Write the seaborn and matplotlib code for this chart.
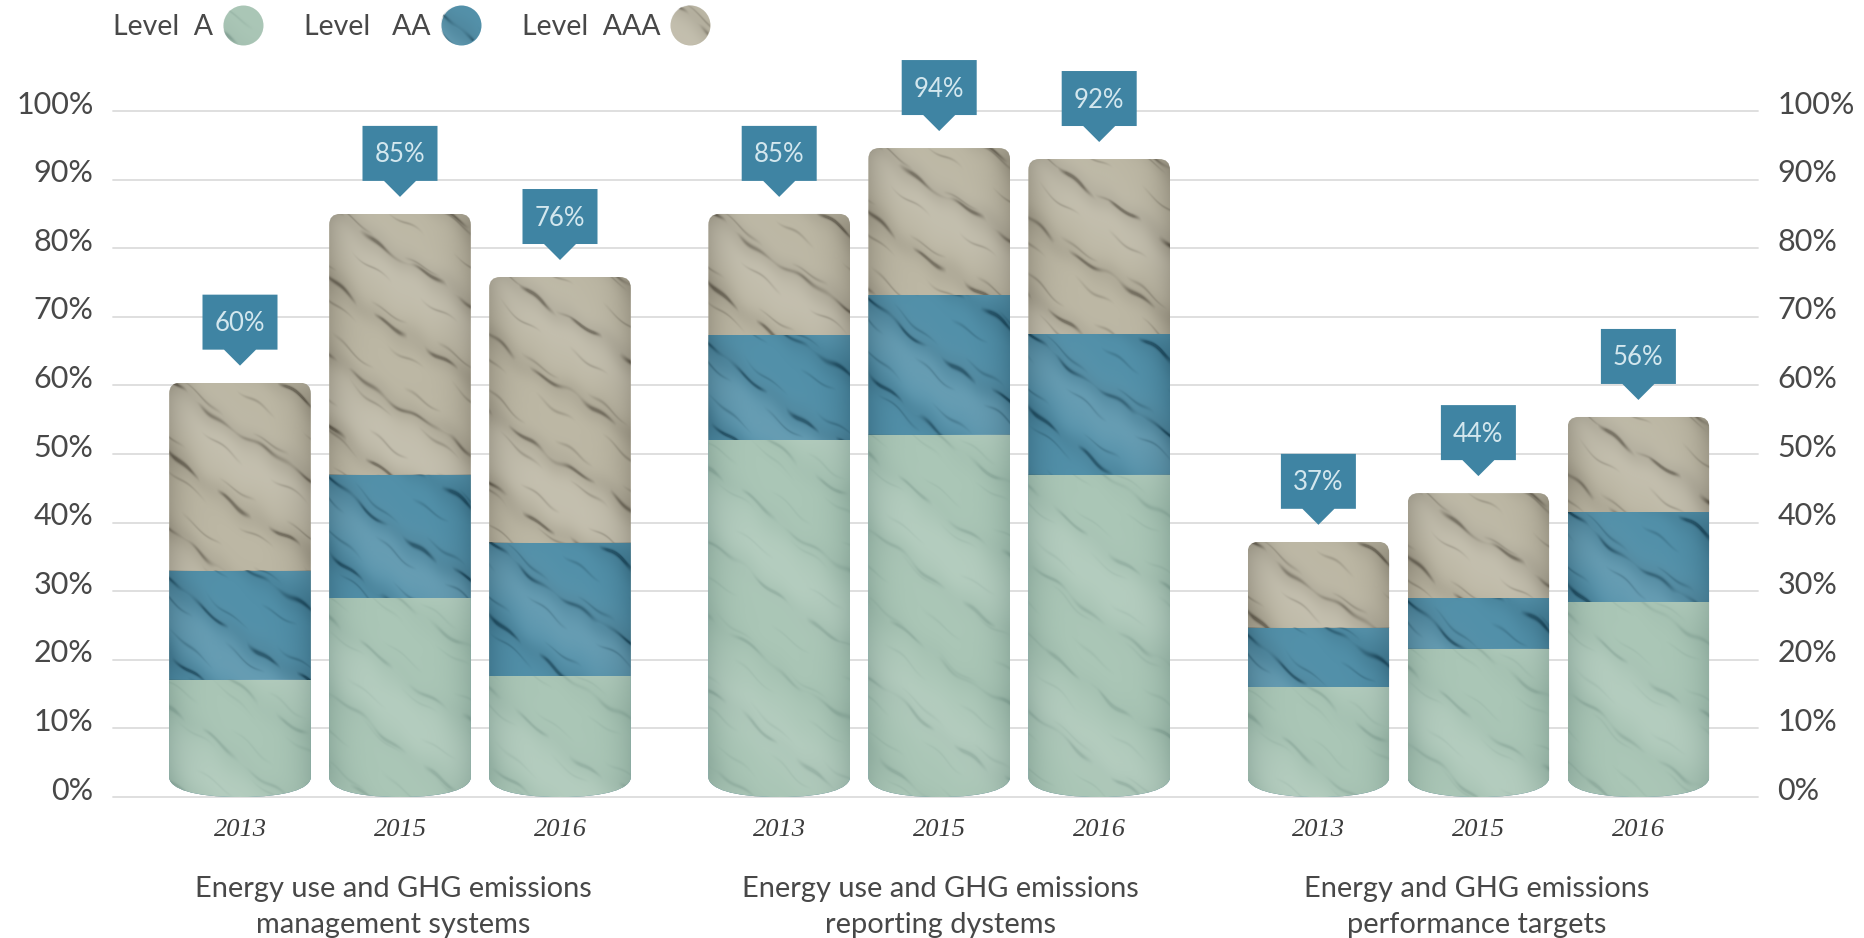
import numpy as np
import pandas as pd
import matplotlib
matplotlib.use("Agg")
import matplotlib.pyplot as plt
from matplotlib.lines import Line2D
from matplotlib.patches import Polygon
from matplotlib.path import Path
from matplotlib.transforms import ScaledTranslation, IdentityTransform
import seaborn as sns

years = ["2013", "2015", "2016"]
groups = ["Energy use and GHG emissions\nmanagement systems",
          "Energy use and GHG emissions\nreporting dystems",
          "Energy and GHG emissions\nperformance targets"]
level_a = [17.1, 29.0, 17.6, 52.0, 52.8, 47.0, 16.0, 21.6, 28.4]
level_aa = [15.9, 18.0, 19.4, 15.3, 20.4, 20.5, 8.7, 7.4, 13.1]
level_aaa = [27.4, 38.0, 38.8, 17.7, 21.4, 25.5, 12.5, 15.3, 13.9]
total_labels = ["60%", "85%", "76%", "85%", "94%", "92%", "37%", "44%", "56%"]
legend_labels = ["Level  A", "Level   AA", "Level  AAA"]
y_ticks = [0, 10, 20, 30, 40, 50, 60, 70, 80, 90, 100]
y_tick_labels = ["0%", "10%", "20%", "30%", "40%", "50%", "60%", "70%", "80%", "90%", "100%"]

COL_A, COL_AA, COL_AAA = "#aac6b6", "#5290a9", "#bcb7a4"
VEIN_A, VEIN_AA, VEIN_AAA = "#4f6f66", "#12384a", "#4a4438"
CALLOUT, CALLOUT_TEXT = "#3f84a3", "#d3e7ee"
TEXT = "#484848"
GRID = "#dcdcdc"
SANS = "Lato"

W, H = 1865, 938
AX_L, AX_R, AX_B, AX_T = 113, 1758, 797, 111      # pixels
PX_X, PX_Y = 160.0, (AX_B - AX_T) / 100.0          # pixels per data unit
GROUP_STEP = 3.37
BAR_W = 0.885

sns.set_theme(style="white")
plt.rcParams["font.family"] = [SANS, "DejaVu Sans"]

fig = plt.figure(figsize=(W / 100, H / 100), dpi=100, facecolor="white")
ax = fig.add_axes([AX_L / W, 1 - AX_B / H, (AX_R - AX_L) / W, (AX_B - AX_T) / H])

positions = np.array([g * GROUP_STEP + i for g in range(3) for i in range(3)])
a = np.array(level_a)
aa = np.array(level_aa)
aaa = np.array(level_aaa)
cum_a, cum_aa, cum_aaa = a, a + aa, a + aa + aaa

XLIM = (-(240 - AX_L) / PX_X, (AX_R - 240) / PX_X)


def bar_shape(xc, top):
    """Outline: rounded top corners, curved cylinder base."""
    x0, x1 = xc - BAR_W / 2, xc + BAR_W / 2
    rx, ry = 11 / PX_X, 11 / PX_Y
    by = 19 / PX_Y
    verts = [(x0, by), (x0, top - ry), (x0, top), (x0 + rx, top), (x1 - rx, top), (x1, top),
             (x1, top - ry), (x1, by), (x1 - 0.01, 0.45 * by), (xc + 0.30, 0), (xc, 0),
             (xc - 0.30, 0), (x0 + 0.01, 0.45 * by), (x0, by), (x0, by)]
    codes = [Path.MOVETO, Path.LINETO, Path.CURVE3, Path.CURVE3, Path.LINETO, Path.CURVE3,
             Path.CURVE3, Path.LINETO, Path.CURVE4, Path.CURVE4, Path.CURVE4,
             Path.CURVE4, Path.CURVE4, Path.CURVE4, Path.CLOSEPOLY]
    return Path(verts, codes)


def marble(wpx, hpx, vein_hex, strength, phase=0.0, cylinder=True):
    """Deterministic veined-stone overlay as an RGBA array."""
    wpx, hpx = max(int(wpx), 2), max(int(hpx), 2)
    X, Y = np.meshgrid(np.arange(wpx), np.arange(hpx))
    t = Y - 0.72 * X + 3.5 * np.sin(X / 23 + phase) + 1.6 * np.sin(X / 5.5 + 2 * phase) + 1.5 * np.sin(Y / 8)
    period = 74.0
    d = (t + 18 * phase) % period - period / 2
    along = np.clip(0.45 + 0.55 * np.sin(X / 11 + Y / 19 + phase) + 0.35 * np.sin(X / 4.3 - Y / 6), 0, 1)
    period2 = 33.0
    d2 = (t + 7 + 9 * phase) % period2 - period2 / 2
    along2 = np.clip(0.15 + 0.6 * np.sin(X / 8 - Y / 21 + 2 * phase), 0, 1)
    vein = np.exp(-(d / 2.2) ** 2) * along + 0.5 * np.exp(-(d2 / 1.5) ** 2) * along2
    soft = 0.4 * np.exp(-(d / 14) ** 2)
    dark = strength * np.clip(vein + soft * 0.45, 0, 1)
    u = (X + 0.5) / wpx
    if cylinder:
        dark = np.clip(dark + 0.27 * np.abs(2 * u - 1) ** 4, 0, 1)
    light = np.clip(0.12 * np.exp(-(((t + 30 * phase) % 170 - 85) / 36) ** 2), 0, 1) * (1 - dark)
    rgb_dark = np.array(matplotlib.colors.to_rgb(vein_hex))
    alpha = dark + light
    img = np.zeros((hpx, wpx, 4))
    mix = dark / np.maximum(alpha, 1e-6)
    for c in range(3):
        img[..., c] = rgb_dark[c] * mix + (1 - mix)
    img[..., 3] = alpha
    return img


# Bars: cumulative heights painted back to front
layers = [(cum_aaa, COL_AAA), (cum_aa, COL_AA), (cum_a, COL_A)]
n_before = 0
for values, colour in layers:
    df = pd.DataFrame({"position": positions, "share": values})
    sns.barplot(data=df, x="position", y="share", native_scale=True, color=colour, saturation=1,
                width=BAR_W, errorbar=None, ax=ax, zorder=3, linewidth=0)
    new = ax.patches[n_before:]
    n_before = len(ax.patches)
    for patch, xc, total in zip(new, positions, cum_aaa):
        patch.set_clip_path(bar_shape(xc, total), ax.transData)

# Stone texture, one tile per segment
for i, (xc, total) in enumerate(zip(positions, cum_aaa)):
    shape = bar_shape(xc, total)
    segs = [(0, cum_a[i], VEIN_A, 0.24, 0.4),
            (cum_a[i], cum_aa[i], VEIN_AA, 0.62, 1.3),
            (cum_aa[i], cum_aaa[i], VEIN_AAA, 0.60, 2.2)]
    for lo, hi, vein, strength, ph in segs:
        tile = marble(BAR_W * PX_X, (hi - lo) * PX_Y, vein, strength, ph + 0.35 * (i % 3))
        im = ax.imshow(tile, extent=(xc - BAR_W / 2, xc + BAR_W / 2, lo, hi), origin="upper",
                       aspect="auto", zorder=4, interpolation="bilinear")
        im.set_clip_path(shape, ax.transData)

# Axes
ax.set_xlim(*XLIM)
ax.set_ylim(0, 100)
ax.set_yticks(y_ticks, y_tick_labels)
ax.set_xticks(positions, years * 3)
ax.set_xlabel("")
ax.set_ylabel("")
ax.set_axisbelow(True)
ax.yaxis.grid(True, color=GRID, lw=1.3, clip_on=False)
ax.xaxis.grid(False)
ax.tick_params(axis="y", length=0, pad=14, labelsize=22, labelcolor=TEXT)
ax.tick_params(axis="x", length=0, pad=16, labelsize=19, labelcolor="#3c3c3c")
for lab in ax.get_xticklabels():
    lab.set_fontfamily("Liberation Serif")
    lab.set_fontstyle("italic")
ax2 = ax.twinx()
ax2.set_ylim(0, 100)
ax2.set_yticks(y_ticks, y_tick_labels)
ax2.tick_params(axis="y", length=0, pad=14, labelsize=22, labelcolor=TEXT)
ax2.grid(False)
for a_ in (ax, ax2):
    sns.despine(ax=a_, left=True, bottom=True, right=True, top=True)
up = ScaledTranslation(0, 9 / 100, fig.dpi_scale_trans)
for lab in list(ax.get_yticklabels()) + list(ax2.get_yticklabels()):
    lab.set_transform(lab.get_transform() + up)

# Callouts above the bars
BOX_W, BOX_H, TIP_GAP, TIP_H, TIP_HW = 75 / PX_X, 55 / PX_Y, 17 / PX_Y, 16 / PX_Y, 16 / PX_X
for xc, total, label in zip(positions, cum_aaa, total_labels):
    tip = total + TIP_GAP
    low = tip + TIP_H
    high = low + BOX_H
    poly = [(xc - BOX_W / 2, high), (xc + BOX_W / 2, high), (xc + BOX_W / 2, low), (xc + TIP_HW, low),
            (xc, tip), (xc - TIP_HW, low), (xc - BOX_W / 2, low)]
    ax.add_patch(Polygon(poly, closed=True, fc=CALLOUT, ec="none", zorder=6, clip_on=False))
    ax.text(xc, (low + high) / 2 - 1.5 / PX_Y, label, ha="center", va="center", color=CALLOUT_TEXT,
            fontsize=18.5, zorder=7, clip_on=False)

# Group captions
for g, caption in enumerate(groups):
    xc = positions[g * 3 + 1] + [-0.04, 0.01, -0.01][g]
    ax.annotate(caption, xy=(xc, 0), xycoords="data", xytext=(0, -110 * 0.72), textcoords="offset points",
                ha="center", va="center", fontsize=20.9, color=TEXT, linespacing=1.47, annotation_clip=False)

# Legend: label first, stone disc after it
handles = [Line2D([], [], ls="none", marker="o", ms=28.8, mfc=c, mec="none")
           for c in (COL_A, COL_AA, COL_AAA)]
leg = ax2.legend(handles, legend_labels, ncol=3, markerfirst=False, frameon=False, loc="center left",
                 bbox_to_anchor=(113 / W, 1 - 27 / H), bbox_transform=fig.transFigure, fontsize=20.5,
                 labelcolor=TEXT, handlelength=1.0, handletextpad=0.55, columnspacing=1.65,
                 borderpad=0, borderaxespad=0)
ax2.set_xlim(*XLIM)
fig.canvas.draw()
inv = ax2.transData.inverted()
for h, vein, st, ph in zip(leg.legend_handles, (VEIN_A, VEIN_AA, VEIN_AAA), (0.4, 0.7, 0.6), (0.4, 1.3, 2.2)):
    cx, cy = h.get_transform().transform((np.mean(h.get_xdata()), np.mean(h.get_ydata())))
    r = 20
    (dx0, dy0), (dx1, dy1) = inv.transform([(cx - r, cy - r), (cx + r, cy + r)])
    tile = marble(2 * r, 2 * r, vein, st, ph, cylinder=False)
    im = ax2.imshow(tile, extent=(dx0, dx1, dy0, dy1), origin="upper", aspect="auto", zorder=8)
    im.set_clip_path(Path.circle((cx, cy), r), IdentityTransform())
    im.set_clip_box(fig.bbox)
ax2.set_xlim(*XLIM)
ax2.set_ylim(0, 100)
ax.set_xlim(*XLIM)
ax.set_ylim(0, 100)

fig.savefig("out.png", dpi=100, facecolor="white")
